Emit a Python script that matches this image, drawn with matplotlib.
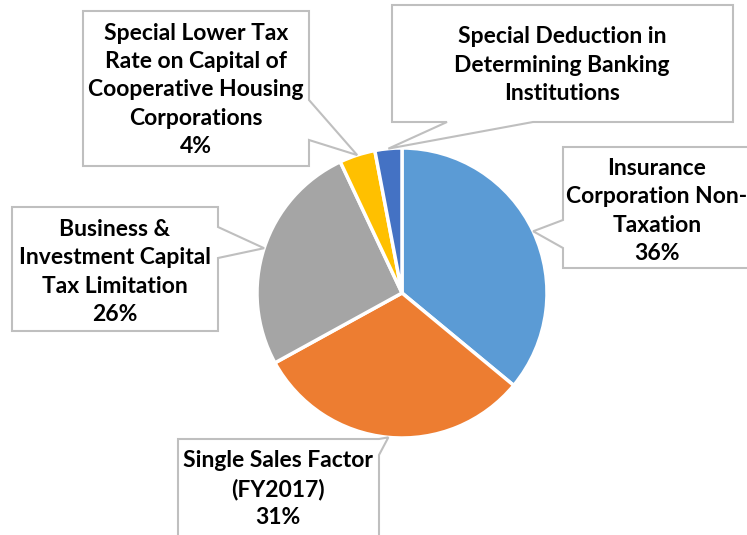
import numpy as np
import matplotlib
matplotlib.use("Agg")
import matplotlib.pyplot as plt
from matplotlib.patches import Polygon

labels = ["Insurance\nCorporation Non-\nTaxation",
          "Single Sales Factor\n(FY2017)",
          "Business &\nInvestment Capital\nTax Limitation",
          "Special Lower Tax\nRate on Capital of\nCooperative Housing\nCorporations",
          "Special Deduction in\nDetermining Banking\nInstitutions"]
values = [36, 31, 26, 4, 3]
show_pct = [True, True, True, True, False]
colors = ["#5B9BD5", "#ED7D31", "#A5A5A5", "#FFC000", "#4472C4"]

W, H = 747, 535
fig = plt.figure(figsize=(W / 100, H / 100), dpi=100)
ax = fig.add_axes([0, 0, 1, 1])
ax.set_xlim(0, W)
ax.set_ylim(0, H)
ax.set_aspect("equal")
ax.axis("off")

cx, cy_px, R = 402, 293, 145
center = (cx, H - cy_px)
wedges, _ = ax.pie(values, colors=colors, startangle=90, counterclock=False,
                   center=center, radius=R, frame=True,
                   wedgeprops=dict(edgecolor="white", linewidth=2.5))
ax.set_xlim(0, W)
ax.set_ylim(0, H)
ax.axis("off")

# callout layout: box (x0, y0, x1, y1) in pixel coords (y down), side, pointer base span, text center
layout = [
    dict(box=(563, 147, 760, 268), side="left", base=(220, 248), text=(657, 211)),
    dict(box=(178, 439, 379, 560), side="right", base=(439, 455), text=(278, 489)),
    dict(box=(12, 207, 218, 331), side="right", base=(227, 258), text=(115, 272)),
    dict(box=(83, 11, 309, 166), side="right", base=(100, 140), text=(196, 90)),
    dict(box=(392, 5, 733, 122), side="bottom", base=(447, 533), text=(562, 65)),
]

edge = "#BFBFBF"
for w, lab, v, sp, lay in zip(wedges, labels, values, show_pct, layout):
    ang = np.deg2rad((w.theta1 + w.theta2) / 2)
    tip = (cx + R * np.cos(ang), H - (cy_px - R * np.sin(ang)))
    x0, y0, x1, y1 = lay["box"]
    Y = lambda y: H - y
    a, b = lay["base"]
    if lay["side"] == "left":
        pts = [(x0, Y(y0)), (x1, Y(y0)), (x1, Y(y1)), (x0, Y(y1)),
               (x0, Y(b)), tip, (x0, Y(a))]
    elif lay["side"] == "right":
        pts = [(x0, Y(y0)), (x1, Y(y0)), (x1, Y(a)), tip, (x1, Y(b)),
               (x1, Y(y1)), (x0, Y(y1))]
    else:  # bottom
        pts = [(x0, Y(y0)), (x1, Y(y0)), (x1, Y(y1)), (b, Y(y1)), tip,
               (a, Y(y1)), (x0, Y(y1))]
    ax.add_patch(Polygon(pts, closed=True, facecolor="white", edgecolor=edge,
                         linewidth=1.5, zorder=5, clip_on=True))
    txt = lab + (f"\n{v}%" if sp else "")
    ax.text(lay["text"][0], Y(lay["text"][1]), txt, ha="center", va="center",
            fontsize=16.5, fontweight="bold", family="Lato", color="black",
            linespacing=1.42, zorder=6)

fig.savefig("out.png", dpi=100)
